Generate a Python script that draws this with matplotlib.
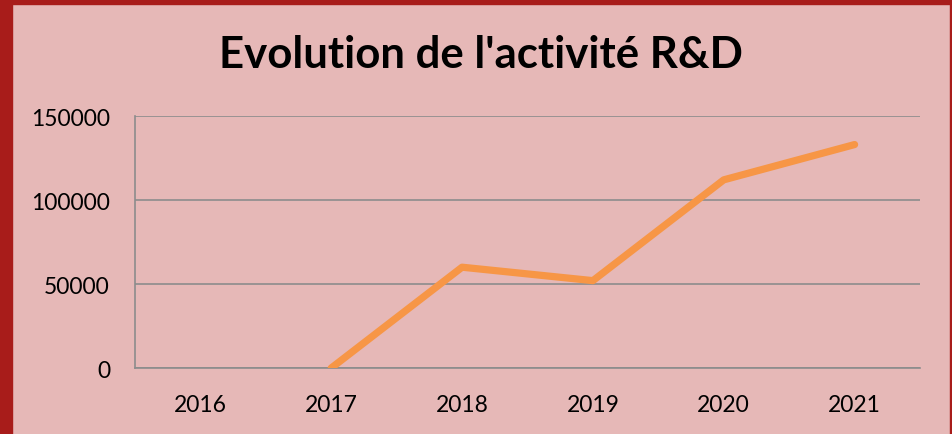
import numpy as np
import matplotlib
matplotlib.use("Agg")
from matplotlib import pyplot as plt
from matplotlib.patches import Rectangle

# data
years = ["2016", "2017", "2018", "2019", "2020", "2021"]
activity = [np.nan, 0, 60000, 52000, 112000, 133000]
y_ticks = [0, 50000, 100000, 150000]

W, H = 953, 435
bg = "#E6B8B7"
border = "#A81C1A"

plt.rcParams['font.family'] = ['Lato', 'DejaVu Sans']

fig = plt.figure(figsize=(W / 100, H / 100), dpi=100)
fig.patch.set_facecolor(bg)

# red frame around the chart (left, top, right)
fig.add_artist(Rectangle((0, 0), 12 / W, 1, transform=fig.transFigure, color=border, zorder=0))
fig.add_artist(Rectangle((0, 1 - 5 / H), 1, 5 / H, transform=fig.transFigure, color=border, zorder=0))
fig.add_artist(Rectangle((1 - 3 / W, 0), 3 / W, 1, transform=fig.transFigure, color=border, zorder=0))

ax = fig.add_axes([135 / W, 1 - 369 / H, (920 - 135) / W, (369 - 117) / H])
ax.set_facecolor(bg)

x = np.arange(len(years))
ax.plot(x, activity, color="#F79646", linewidth=5.2, solid_capstyle="round",
        solid_joinstyle="round", zorder=3)

ax.set_xlim(-0.5, len(years) - 0.5)
ax.set_ylim(0, 150000)
ax.set_yticks(y_ticks)
ax.set_yticklabels([str(v) for v in y_ticks])
ax.set_xticks(x)
ax.set_xticklabels(years)
ax.tick_params(length=0, labelsize=16.5, colors="black")
ax.tick_params(axis="x", pad=19)
ax.tick_params(axis="y", pad=18)

ax.yaxis.grid(True, color="#8C8C8C", linewidth=1.2)
ax.set_axisbelow(True)
for side in ["top", "right"]:
    ax.spines[side].set_visible(False)
ax.spines["left"].set_color("#8C8C8C")
ax.spines["bottom"].set_color("#8C8C8C")
ax.spines["left"].set_linewidth(1.2)
ax.spines["bottom"].set_linewidth(1.2)

fig.text(481 / W, 1 - 55 / H, "Evolution de l'activité R&D", ha="center", va="center",
         fontsize=31.5, fontweight="bold", color="black")

fig.savefig("out.png", dpi=100, facecolor=bg)
